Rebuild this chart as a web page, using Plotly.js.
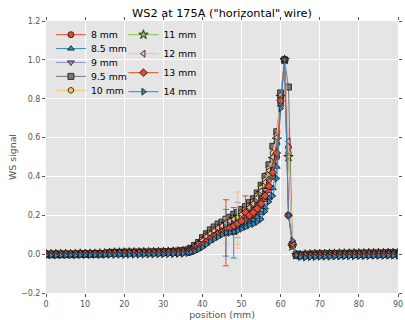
<!DOCTYPE html>
<html>
<head>
<meta charset="utf-8">
<script src="https://cdn.plot.ly/plotly-3.0.1.min.js"></script>
<style>
  html, body { margin: 0; padding: 0; background: #ffffff; }
  #chart { width: 405px; height: 320px; }
</style>
</head>
<body>
<div id="chart"></div>
<script>
// Wire-scanner position (mm)
const positionMm = [
  0, 1.25, 2.5, 3.75, 5, 6.25, 7.5, 8.75, 10, 11.25, 12.5, 13.75, 15, 16.25, 17.5,
  18.75, 20, 21.25, 22.5, 23.75, 25, 26.25, 27.5, 28.75, 30, 31.25, 32.5, 33.75, 35, 36.25,
  37, 38, 39, 40, 41, 42, 43, 44, 45, 46, 47, 48, 49, 50, 51, 52, 53, 54, 55, 56, 57, 58,
  59, 60, 61, 62, 63, 64, 65,
  66.25, 67.5, 68.75, 70, 71.25, 72.5, 73.75, 75, 76.25, 77.5, 78.75, 80, 81.25, 82.5,
  83.75, 85, 86.25, 87.5, 88.75, 90
];

const seriesLabels = ['8 mm', '8.5 mm', '9 mm', '9.5 mm', '10 mm', '11 mm', '12 mm', '13 mm', '14 mm'];

// WS signal per wire setting
const signal8mm = [
  0.0, 0.0, -0.002, 0.0, 0.0, 0.001, 0.0, 0.0, 0.002, 0.0, 0.001, 0.002, 0.002, 0.004, 0.005,
  0.004, 0.005, 0.005, 0.006, 0.005, 0.006, 0.006, 0.005, 0.006, 0.007, 0.007, 0.008, 0.008, 0.009, 0.01,
  0.012, 0.02, 0.03, 0.045, 0.06, 0.075, 0.088, 0.1, 0.108, 0.11, 0.125, 0.135, 0.145, 0.16, 0.175,
  0.19, 0.205, 0.225, 0.25, 0.285, 0.33, 0.4, 0.5, 0.78, 1.0, 0.55, 0.05, -0.005, -0.01,
  -0.008, -0.006, -0.005, -0.005, -0.004, -0.004, -0.004, -0.003, -0.003, -0.003, -0.002, -0.003, -0.002, -0.002,
  -0.002, -0.001, -0.002, -0.001, -0.001, -0.001
];
const signal8p5mm = [
  -0.004, -0.004, -0.005, -0.004, -0.003, -0.004, -0.003, -0.003, -0.002, -0.003, -0.002, -0.002, -0.001, -0.001, 0.0,
  -0.001, 0.0, 0.0, 0.001, 0.0, 0.001, 0.001, 0.002, 0.002, 0.003, 0.003, 0.004, 0.005, 0.006, 0.008,
  0.012, 0.018, 0.028, 0.04, 0.055, 0.07, 0.083, 0.095, 0.105, 0.115, 0.12, 0.11, 0.135, 0.145, 0.155,
  0.165, 0.175, 0.19, 0.21, 0.24, 0.29, 0.34, 0.45, 0.77, 1.0, 0.2, 0.06, -0.005, -0.012,
  -0.014, -0.013, -0.012, -0.012, -0.011, -0.011, -0.01, -0.01, -0.01, -0.009, -0.009, -0.009, -0.008, -0.008,
  -0.008, -0.007, -0.007, -0.007, -0.006, -0.006
];
const signal9mm = [
  -0.001, 0.0, -0.002, 0.0, 0.0, -0.001, 0.0, 0.001, 0.0, 0.001, 0.002, 0.002, 0.003, 0.006, 0.007,
  0.007, 0.008, 0.008, 0.008, 0.009, 0.009, 0.009, 0.009, 0.01, 0.01, 0.01, 0.011, 0.011, 0.012, 0.013,
  0.015, 0.025, 0.035, 0.05, 0.07, 0.085, 0.1, 0.115, 0.125, 0.14, 0.15, 0.16, 0.175, 0.185, 0.2,
  0.215, 0.235, 0.26, 0.29, 0.33, 0.38, 0.46, 0.56, 0.8, 1.0, 0.2, 0.05, -0.005, -0.008,
  -0.006, -0.005, -0.004, -0.003, -0.003, -0.002, -0.002, -0.001, -0.001, -0.001, 0.0, 0.0, 0.0, 0.001,
  0.001, 0.001, 0.001, 0.002, 0.002, 0.002
];
const signal9p5mm = [
  0.0, 0.0, 0.001, 0.0, 0.001, 0.0, 0.001, 0.002, 0.002, 0.002, 0.003, 0.003, 0.004, 0.008, 0.009,
  0.009, 0.01, 0.01, 0.01, 0.011, 0.011, 0.011, 0.012, 0.012, 0.012, 0.013, 0.014, 0.016, 0.018, 0.022,
  0.03, 0.045, 0.06, 0.085, 0.105, 0.125, 0.14, 0.155, 0.165, 0.18, 0.19, 0.205, 0.215, 0.23, 0.245,
  0.265, 0.285, 0.315, 0.355, 0.4, 0.46, 0.555, 0.63, 0.83, 1.0, 0.86, 0.05, 0.0, -0.005,
  -0.001, 0.0, 0.001, 0.002, 0.002, 0.003, 0.003, 0.004, 0.004, 0.004, 0.005, 0.005, 0.005, 0.006,
  0.006, 0.006, 0.006, 0.007, 0.007, 0.007
];
const signal10mm = [
  0.0, -0.001, 0.0, 0.001, 0.0, 0.0, 0.001, 0.001, 0.002, 0.001, 0.002, 0.003, 0.003, 0.006, 0.007,
  0.007, 0.008, 0.008, 0.009, 0.009, 0.009, 0.01, 0.01, 0.01, 0.011, 0.011, 0.012, 0.013, 0.015, 0.018,
  0.025, 0.04, 0.055, 0.075, 0.095, 0.11, 0.125, 0.14, 0.15, 0.12, 0.175, 0.19, 0.185, 0.215, 0.23,
  0.25, 0.27, 0.3, 0.34, 0.38, 0.44, 0.52, 0.61, 0.8, 1.0, 0.52, 0.04, -0.005, -0.005,
  -0.003, -0.002, -0.001, 0.0, 0.0, 0.001, 0.001, 0.002, 0.002, 0.002, 0.003, 0.003, 0.003, 0.004,
  0.004, 0.004, 0.005, 0.005, 0.005, 0.005
];
const signal11mm = [
  0.0, 0.0, 0.0, 0.001, 0.001, 0.0, 0.001, 0.002, 0.001, 0.002, 0.002, 0.003, 0.004, 0.007, 0.008,
  0.008, 0.008, 0.009, 0.009, 0.009, 0.01, 0.01, 0.01, 0.011, 0.011, 0.012, 0.013, 0.014, 0.016, 0.019,
  0.02, 0.03, 0.045, 0.06, 0.08, 0.095, 0.11, 0.125, 0.14, 0.155, 0.165, 0.18, 0.19, 0.2, 0.215,
  0.235, 0.255, 0.28, 0.315, 0.355, 0.41, 0.49, 0.59, 0.81, 1.0, 0.5, 0.04, -0.005, -0.005,
  -0.002, -0.001, 0.0, 0.001, 0.001, 0.002, 0.002, 0.003, 0.003, 0.003, 0.004, 0.004, 0.004, 0.005,
  0.005, 0.005, 0.005, 0.006, 0.006, 0.006
];
const signal12mm = [
  0.0, 0.0, 0.001, 0.0, 0.001, 0.001, 0.0, 0.002, 0.002, 0.002, 0.003, 0.003, 0.004, 0.007, 0.008,
  0.008, 0.009, 0.009, 0.009, 0.01, 0.01, 0.01, 0.011, 0.011, 0.012, 0.012, 0.013, 0.015, 0.017, 0.02,
  0.022, 0.035, 0.05, 0.07, 0.09, 0.105, 0.12, 0.135, 0.145, 0.16, 0.17, 0.18, 0.15, 0.205, 0.22,
  0.24, 0.26, 0.29, 0.325, 0.37, 0.43, 0.5, 0.6, 0.82, 1.0, 0.58, 0.045, -0.003, -0.005,
  -0.002, -0.001, 0.0, 0.001, 0.002, 0.002, 0.003, 0.003, 0.003, 0.004, 0.004, 0.004, 0.005, 0.005,
  0.005, 0.006, 0.006, 0.006, 0.006, 0.007
];
const signal13mm = [
  -0.002, -0.001, -0.002, -0.001, 0.0, -0.001, 0.0, 0.0, 0.001, 0.0, 0.001, 0.001, 0.002, 0.003, 0.004,
  0.004, 0.004, 0.005, 0.005, 0.005, 0.005, 0.006, 0.006, 0.006, 0.006, 0.007, 0.007, 0.008, 0.009, 0.011,
  0.013, 0.022, 0.033, 0.048, 0.064, 0.08, 0.093, 0.105, 0.115, 0.125, 0.135, 0.145, 0.158, 0.17, 0.215,
  0.2, 0.215, 0.235, 0.26, 0.3, 0.35, 0.42, 0.52, 0.79, 1.0, 0.2, 0.055, -0.005, -0.01,
  -0.01, -0.009, -0.008, -0.008, -0.007, -0.007, -0.006, -0.006, -0.006, -0.005, -0.005, -0.005, -0.005, -0.004,
  -0.004, -0.004, -0.004, -0.003, -0.003, -0.003
];
const signal14mm = [
  -0.006, -0.006, -0.007, -0.006, -0.006, -0.005, -0.006, -0.005, -0.005, -0.005, -0.004, -0.005, -0.004, -0.004, -0.004,
  -0.003, -0.004, -0.003, -0.003, -0.003, -0.002, -0.002, -0.002, -0.001, -0.001, 0.0, 0.0, 0.001, 0.002, 0.005,
  0.01, 0.015, 0.025, 0.035, 0.05, 0.065, 0.077, 0.088, 0.1, 0.11, 0.11, 0.115, 0.12, 0.13, 0.14,
  0.15, 0.155, 0.165, 0.18, 0.22, 0.27, 0.3, 0.39, 0.75, 1.0, 0.2, 0.07, -0.005, -0.015,
  -0.018, -0.016, -0.015, -0.014, -0.013, -0.013, -0.012, -0.012, -0.011, -0.011, -0.011, -0.01, -0.01, -0.01,
  -0.009, -0.009, -0.009, -0.008, -0.008, -0.008
];

const signals = [signal8mm, signal8p5mm, signal9mm, signal9p5mm, signal10mm,
                 signal11mm, signal12mm, signal13mm, signal14mm];

// Uncertainty of the few noisy readings: [series, position (mm), ±error]
const errorLabels    = ['8 mm', '14 mm', '8.5 mm', '10 mm', '10 mm', '12 mm', '9 mm', '13 mm'];
const errorPositions = [46, 46, 48, 46, 49, 49, 49, 51];
const errorValues    = [0.17, 0.12, 0.13, 0.065, 0.135, 0.12, 0.09, 0.085];

// ggplot-style colour cycle and matplotlib-like marker set
const colours = ['#E24A33', '#348ABD', '#988ED5', '#777777', '#FBC15E',
                 '#8EBA42', '#FFB5B8', '#E24A33', '#348ABD'];
const symbols = ['circle', 'triangle-up', 'triangle-down', 'square', 'hexagon',
                 'star', 'triangle-left', 'diamond', 'triangle-right'];

const traces = seriesLabels.map(function (label, i) {
  const err = positionMm.map(function () { return NaN; });
  errorLabels.forEach(function (l, k) {
    if (l === label) err[positionMm.indexOf(errorPositions[k])] = errorValues[k];
  });
  return {
    type: 'scatter',
    mode: 'lines+markers',
    name: label,
    x: positionMm,
    y: signals[i],
    legend: i < 5 ? 'legend' : 'legend2',
    line: { color: colours[i], width: 1 },
    marker: {
      symbol: symbols[i],
      color: colours[i],
      size: symbols[i] === 'star' ? 7 : 6,
      line: { color: '#111111', width: 0.8 }
    },
    error_y: { type: 'data', array: err, visible: true, color: colours[i], thickness: 1, width: 3 }
  };
});

const tickFont = { family: 'DejaVu Sans', size: 8, color: '#555555' };
const legendFont = { family: 'DejaVu Sans', size: 9.3, color: '#000000' };

const layout = {
  width: 405,
  height: 320,
  margin: { l: 46, r: 7, t: 21, b: 27 },
  paper_bgcolor: '#ffffff',
  plot_bgcolor: '#E5E5E5',
  showlegend: true,
  font: { family: 'DejaVu Sans' },
  title: {
    text: 'WS2 at 175A ("horizontal" wire)',
    font: { family: 'DejaVu Sans', size: 11.3, color: '#000000' },
    xref: 'paper', x: 0.5, xanchor: 'center',
    yref: 'container', y: 1 - 13 / 320, yanchor: 'middle'
  },
  xaxis: {
    range: [0, 90],
    tick0: 0, dtick: 10,
    showgrid: true, gridcolor: '#ffffff', gridwidth: 1,
    zeroline: false, showline: false, mirror: 'ticks',
    ticks: 'outside', ticklen: 3, tickcolor: '#555555',
    tickfont: tickFont,
    title: { text: 'position (mm)', font: { family: 'DejaVu Sans', size: 9.4, color: '#555555' }, standoff: 0 }
  },
  yaxis: {
    range: [-0.2, 1.2],
    tick0: -0.2, dtick: 0.2, tickformat: '.1f',
    showgrid: true, gridcolor: '#ffffff', gridwidth: 1,
    zeroline: false, showline: false, mirror: 'ticks',
    ticks: 'outside', ticklen: 3, tickcolor: '#555555',
    tickfont: tickFont,
    title: { text: 'WS signal', font: { family: 'DejaVu Sans', size: 9.4, color: '#555555' }, standoff: 2 }
  },
  legend: {
    x: 0.014, xanchor: 'left', y: 1.003, yanchor: 'top',
    bgcolor: 'rgba(0,0,0,0)', borderwidth: 0,
    font: legendFont, itemwidth: 30, tracegroupgap: 0
  },
  legend2: {
    x: 0.22, xanchor: 'left', y: 1.003, yanchor: 'top',
    bgcolor: 'rgba(0,0,0,0)', borderwidth: 0,
    font: legendFont, itemwidth: 30, tracegroupgap: 0
  }
};

// Pack legend rows at a fixed 13.9 px pitch, measured from the rendered labels
const ROW_PITCH = 13.9;
function packLegendRows(gd) {
  gd.querySelectorAll('g.legend').forEach(function (lg) {
    const rows = Array.prototype.slice.call(lg.querySelectorAll('g.traces'));
    if (!rows.length) return;
    const tops = rows.map(function (row) {
      const t = row.querySelector('text.legendtext') || row;
      return t.getBoundingClientRect().top;
    });
    rows.forEach(function (row, idx) {
      const delta = tops[0] + idx * ROW_PITCH - tops[idx];
      if (Math.abs(delta) > 0.05) {
        row.setAttribute('transform', (row.getAttribute('transform') || '') + ' translate(0,' + delta + ')');
      }
    });
  });
}

Plotly.newPlot('chart', traces, layout, { displayModeBar: false, staticPlot: true }).then(function (gd) {
  packLegendRows(gd);
  gd.on('plotly_afterplot', function () { packLegendRows(gd); });
  setTimeout(function () { packLegendRows(gd); }, 30);
});
</script>
</body>
</html>
